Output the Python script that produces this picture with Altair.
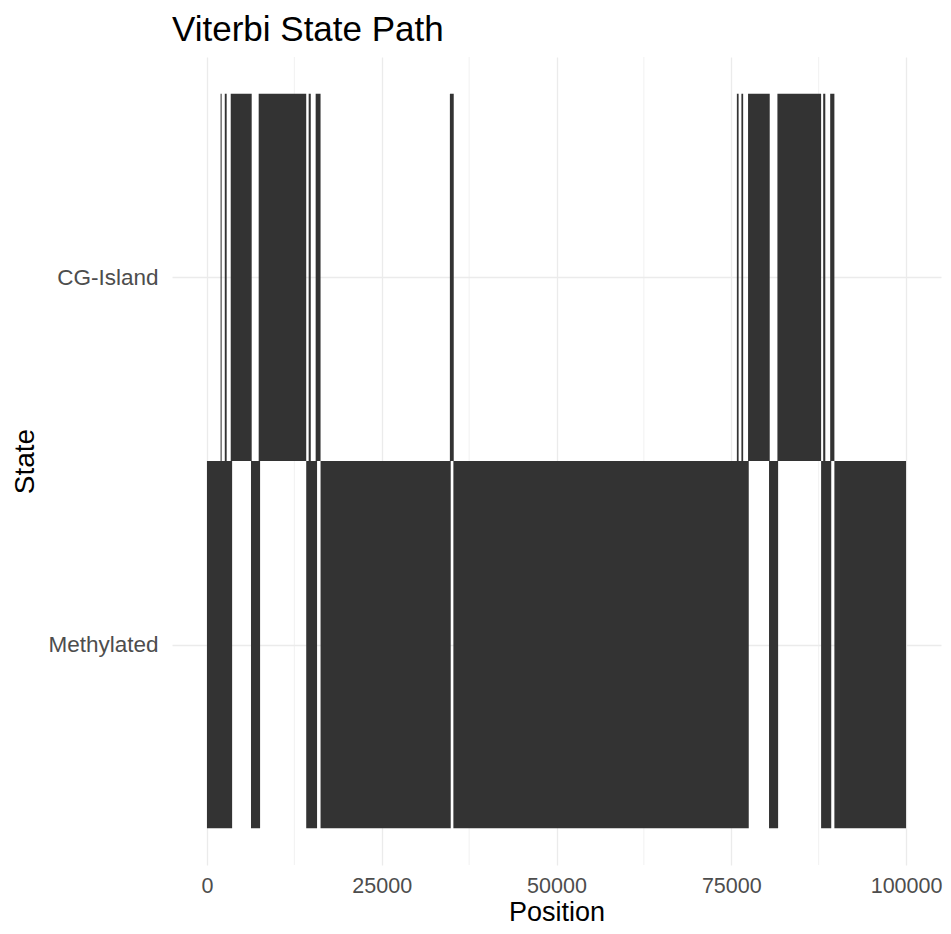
import altair as alt
import pandas as pd

# ---- data ----
states = ["Methylated", "CG-Island"]  # bottom to top

cg_start = [1950, 2550, 3400, 7400, 14550, 15550, 34750, 75800, 76450, 77400, 81600, 88150, 89150]
cg_end   = [2100, 2820, 6400, 14200, 14850, 16250, 35300, 76050, 76700, 80500, 87850, 88450, 89750]

me_start = [0, 6300, 14200, 16250, 35250, 80400, 87850, 89750]
me_end   = [3600, 7600, 15750, 34870, 77500, 81700, 89300, 100000]

x_breaks = [0, 25000, 50000, 75000, 100000]
x_minor = [12500, 37500, 62500, 87500]

# ---- build tables ----
rows = []
for s, e in zip(me_start, me_end):
    rows.append({"start": s, "end": e, "state": states[0], "lvl": 1})
for s, e in zip(cg_start, cg_end):
    rows.append({"start": s, "end": e, "state": states[1], "lvl": 2})
df = pd.DataFrame(rows)
df["y0"] = df["lvl"] - 0.5
df["y1"] = df["lvl"] + 0.5

minor_df = pd.DataFrame({"m": x_minor})

FONT = "Liberation Sans"
W, H = 769, 808

xscale = alt.Scale(domain=[-5000, 105000], nice=False, zero=False)
yscale = alt.Scale(domain=[0.4, 2.6], nice=False, zero=False)

label_expr = "datum.value == 1 ? '%s' : '%s'" % (states[0], states[1])

minor = alt.Chart(minor_df).mark_rule(color="#EBEBEB", strokeWidth=0.7).encode(
    x=alt.X("m:Q", scale=xscale)
)

rects = alt.Chart(df).mark_rect(color="#333333", strokeWidth=0).encode(
    x=alt.X("start:Q", scale=xscale,
            axis=alt.Axis(values=x_breaks, format="d", title="Position",
                          grid=True, gridColor="#EBEBEB", gridWidth=1.3,
                          ticks=False, tickSize=0, domain=False,
                          labelFont=FONT, labelFontSize=21.5, labelColor="#4D4D4D",
                          labelPadding=10, labelBaseline="top",
                          titleFont=FONT, titleFontSize=27, titleColor="#000000",
                          titleFontWeight="normal", titlePadding=3)),
    x2="end:Q",
    y=alt.Y("y0:Q", scale=yscale,
            axis=alt.Axis(values=[1, 2], labelExpr=label_expr, title="State",
                          grid=True, gridColor="#EBEBEB", gridWidth=1.3,
                          ticks=False, tickSize=0, domain=False,
                          labelFont=FONT, labelFontSize=22.5, labelColor="#4D4D4D",
                          labelPadding=14,
                          titleFont=FONT, titleFontSize=28, titleColor="#000000",
                          titleFontWeight="normal", titlePadding=8)),
    y2="y1:Q",
)

chart = alt.layer(minor, rects).properties(
    width=W,
    height=H,
    title=alt.TitleParams("Viterbi State Path", anchor="start", frame="group",
                          font=FONT, fontSize=35, fontWeight="normal",
                          color="#000000", offset=9),
    autosize=alt.AutoSizeParams(type="none"),
    padding={"left": 164, "top": 49, "right": 2, "bottom": 61},
).configure(background="white").configure_view(strokeWidth=0, stroke=None)

chart.save("out.html", embed_options={"renderer": "svg", "actions": False})
